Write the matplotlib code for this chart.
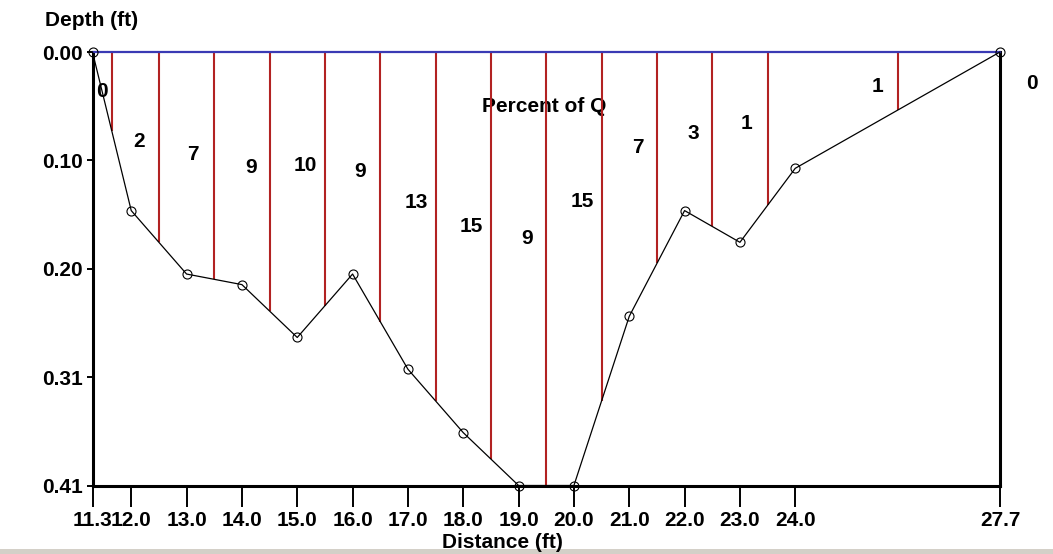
import numpy as np
import matplotlib
matplotlib.use("Agg")
import matplotlib.pyplot as plt
from matplotlib.patches import Rectangle

# Cross-section survey: station distance (ft) and measured depth (ft)
stations = [11.3, 12.0, 13.0, 14.0, 15.0, 16.0, 17.0, 18.0, 19.0, 20.0,
            21.0, 22.0, 23.0, 24.0, 27.7]
depths = [0.00, 0.15, 0.21, 0.22, 0.27, 0.21, 0.30, 0.36, 0.41, 0.41,
          0.25, 0.15, 0.18, 0.11, 0.00]
# Share of total discharge carried by each station's subsection (%)
percent_q = [0, 2, 7, 9, 10, 9, 13, 15, 9, 15, 7, 3, 1, 1, 0]
max_depth = 0.41

# Placement of each percentage label (distance ft, depth ft)
label_x = [11.47, 12.15, 13.12, 14.16, 15.14, 16.13, 17.16, 18.14, 19.15,
           20.15, 21.15, 22.15, 23.12, 25.49, 28.27]
label_y = [0.037, 0.085, 0.097, 0.109, 0.107, 0.113, 0.142, 0.165, 0.176,
           0.141, 0.090, 0.077, 0.068, 0.033, 0.030]

plt.rcParams['font.family'] = ['Liberation Sans', 'DejaVu Sans']
plt.rcParams['font.weight'] = 'bold'
FS = 15

W, H = 1053, 554
fig = plt.figure(figsize=(W / 100, H / 100), dpi=100)
fig.patch.set_facecolor('white')
ax = fig.add_axes([92.5 / W, (H - 485.5) / H, (1000 - 92.5) / W, (485.5 - 52) / H])

x = np.asarray(stations)
d = np.asarray(depths)

# Subsection boundaries halfway between stations, down to the channel bed
bounds = (x[:-1] + x[1:]) / 2
bed_at_bounds = np.interp(bounds, x, d)
ax.vlines(bounds, 0, bed_at_bounds, colors='#b22222', linewidth=1.5, zorder=3)

# Water surface
ax.plot([x[0], x[-1]], [0, 0], color='#3a3ab4', linewidth=1.6, zorder=4,
        clip_on=False)

# Channel bed profile
ax.plot(x, d, color='black', linewidth=0.9, marker='o', markersize=6.5,
        markerfacecolor='none', markeredgecolor='black', markeredgewidth=0.8,
        zorder=5, clip_on=False)

for px, py, q in zip(label_x, label_y, percent_q):
    ax.text(px, py, str(q), ha='center', va='center', fontsize=FS,
            fontweight='bold', zorder=2, clip_on=False)

ax.text(19.46, 0.0515, 'Percent of Q', ha='center', va='center', fontsize=FS,
        fontweight='bold', zorder=2)

ax.set_xlim(x[0], x[-1])
ax.set_ylim(max_depth, 0)

ax.set_xticks(x)
ax.set_xticklabels([f"{v:.1f}" for v in x])
yt = np.linspace(0, max_depth, 5)
ax.set_yticks(yt)
ax.set_yticklabels([f"{v:.2f}" for v in yt])

ax.tick_params(axis='x', length=15, width=1.4, pad=3.5, labelsize=FS,
               direction='out', color='black')
ax.tick_params(axis='y', length=4.5, width=1.4, pad=2.5, labelsize=FS,
               direction='out', color='black')
for lbl in ax.get_xticklabels() + ax.get_yticklabels():
    lbl.set_fontweight('bold')

ax.spines['top'].set_visible(False)
for side in ('left', 'bottom', 'right'):
    ax.spines[side].set_linewidth(2.2)
    ax.spines[side].set_color('black')

fig.text(92 / W, 1 - 20.5 / H, 'Depth (ft)', ha='center', va='center',
         fontsize=FS, fontweight='bold')
fig.text(502 / W, 1 - 543 / H, 'Distance (ft)', ha='center', va='center',
         fontsize=FS, fontweight='bold')

fig.patches.append(Rectangle((0, 0), 1, 5 / H, transform=fig.transFigure,
                             facecolor='#d4d0c8', edgecolor='none', zorder=0))

fig.savefig('out.png', dpi=100)
